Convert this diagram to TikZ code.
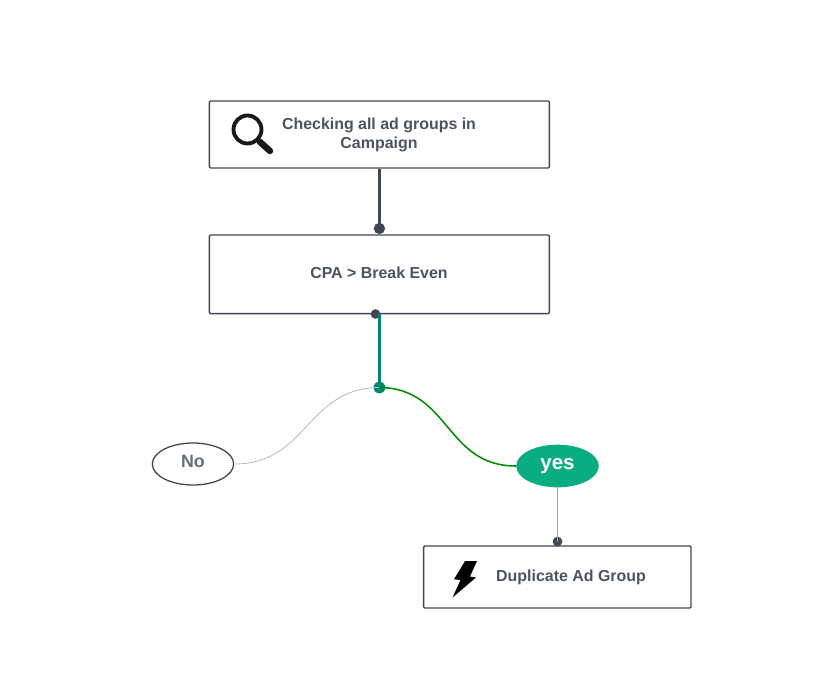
\documentclass[tikz,border=0pt]{standalone}
\usepackage{xcolor}
\usepackage{fontspec}
\setmainfont{Liberation Sans}
\usetikzlibrary{shapes.geometric}

\definecolor{slatec}{HTML}{3F4654}
\definecolor{labelc}{HTML}{4C535D}
\definecolor{tealc}{HTML}{008573}
\definecolor{greenc}{HTML}{008A00}
\definecolor{yesc}{HTML}{0AAD82}

\tikzset{
    box/.style={draw=slatec, line width=1.15pt, rounded corners=1pt, inner sep=0pt, align=center},
    oval/.style={ellipse, inner sep=0pt, minimum width=2.44cm, minimum height=1.26cm},
    dot/.style={circle, inner sep=0pt, fill=slatec},
    lbl/.style={inner sep=0pt, align=center, text=labelc, font=\bfseries\fontsize{13.6}{16.2}\selectfont}
}

\begin{document}
\begin{tikzpicture}[x=0.03cm, y=-0.03cm]
        \useasboundingbox (0,0) rectangle (831,690);

        % the boxes
        \node[box, minimum width=10.2cm, minimum height=2.01cm] (check) at (379.4,134.5) {};
        \node[box, minimum width=10.2cm, minimum height=2.36cm] (cpa) at (379.4,274.3) {};
        \node[box, minimum width=8.02cm, minimum height=1.86cm] (dup) at (557.3,577) {};

        % the labels
        \node[lbl] (checktext) at (379,134.5) {Checking all ad groups in\\Campaign};
        \node[lbl] (cpatext) at (379,272.7) {CPA > Break Even};
        \node[lbl] (duptext) at (571,577) {Duplicate Ad Group};

        % the two answers
        \node[oval, draw=slatec, line width=1.1pt] (no) at (193,464) {};
        \node[oval, fill=yesc, minimum width=2.48cm, minimum height=1.28cm] (yes) at (557.5,466) {};
        \node[inner sep=0pt, text=labelc!85, font=\bfseries\fontsize{15.2}{16}\selectfont] (notext) at (193,461.5) {No};
        \node[inner sep=0pt, text=white, font=\bfseries\fontsize{17.5}{18}\selectfont] (yestext) at (557.5,466.5) {yes};

        % the dots
        \node[dot, minimum size=0.34cm] (checkdot) at (379.4,228.5) {};
        \node[dot, minimum size=0.29cm] (cpadot) at (375.5,314) {};
        \node[dot, fill=tealc, minimum size=0.35cm] (split) at (379.4,387.5) {};
        \node[dot, minimum size=0.29cm] (dupdot) at (557.5,541.5) {};

        % the connectors
        \draw [slatec, line width=2.5pt] (check.south) -- (checkdot.center);
        \draw [tealc, line width=2.5pt] (cpa.south) -- (split.center);
        \draw [black!28, line width=0.7pt] (no.east) .. controls (308,464) and (306,388) .. (split.center);
        \draw [greenc, line width=1.3pt] (split.center) .. controls (450,388) and (445,466) .. (yes.west);
        \draw [black!35, line width=0.7pt] (yes.south) -- (dupdot.center);

        % the magnifier
        \draw [black!90, line width=3.3pt] (247.5,129.5) circle (14);
        \draw [black!90, line width=5.5pt, line cap=round] (259.5,141.5) -- (270,151);

        % the bolt
        \fill [black] (465,561) -- (477,561) -- (470,576.5) -- (476,577.5) -- (452.5,597.5)
            -- (460.5,580) -- (454,579.3) -- cycle;
    \end{tikzpicture}
\end{document}
